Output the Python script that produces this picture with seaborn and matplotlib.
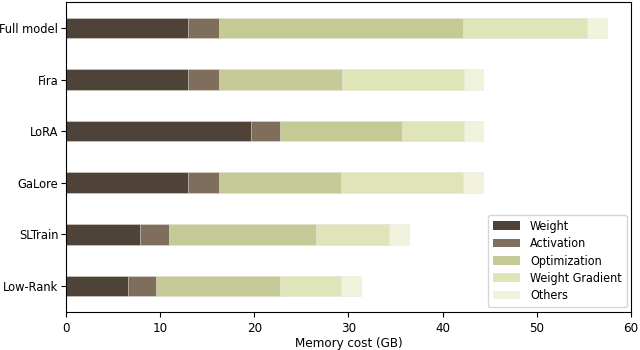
import matplotlib
matplotlib.use("Agg")
import matplotlib.pyplot as plt
import seaborn as sns
import numpy as np
import pandas as pd
from matplotlib.patches import Patch

methods = ["Full model", "Fira", "LoRA", "GaLore", "SLTrain", "Low-Rank"]
components = ["Weight", "Activation", "Optimization", "Weight Gradient", "Others"]
weight = [13.0, 13.0, 19.6, 13.0, 7.9, 6.6]
activation = [3.2, 3.2, 3.1, 3.2, 3.0, 3.0]
optimization = [26.0, 13.1, 13.0, 13.0, 15.7, 13.1]
weight_gradient = [13.1, 13.0, 6.6, 13.0, 7.7, 6.5]
others = [2.1, 2.0, 2.0, 2.1, 2.1, 2.1]
colors = ["#4e4239", "#806e5c", "#c5c996", "#dfe5b9", "#f2f3dc"]

series = [weight, activation, optimization, weight_gradient, others]
cum = np.cumsum(np.array(series), axis=0)

plt.rcParams["font.family"] = ["DejaVu Sans"]
plt.rcParams["font.stretch"] = "condensed"

fig, ax = plt.subplots(figsize=(6.4, 3.5), dpi=100)
fig.subplots_adjust(left=0.103, right=0.986, top=0.994, bottom=0.109)

for i in range(len(components) - 1, -1, -1):
    df = pd.DataFrame({"method": methods, "value": cum[i]})
    sns.barplot(data=df, y="method", x="value", orient="h", color=colors[i],
                width=0.4, edgecolor="#e8e8e0", linewidth=0.4, saturation=1,
                ax=ax)

ax.set_xlim(0, 60)
ax.set_xticks([0, 10, 20, 30, 40, 50, 60])
ax.tick_params(axis="x", labelsize=9.5)
ax.tick_params(axis="y", labelsize=9.2, pad=2)
ax.set_xlabel("Memory cost (GB)", fontsize=9.5, labelpad=2)
ax.set_ylabel("")
handles = [Patch(facecolor=c, edgecolor="none", label=l) for c, l in zip(colors, components)]
ax.legend(handles=handles, loc="lower right", fontsize=9, labelspacing=0.35,
          handlelength=2.2, borderaxespad=0.35)
fig.savefig("out.png", dpi=100)
